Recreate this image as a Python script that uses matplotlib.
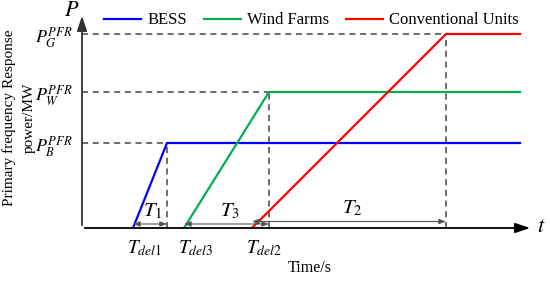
import matplotlib
matplotlib.use("Agg")
import matplotlib.pyplot as plt

plt.rcParams["font.family"] = "Liberation Serif"
plt.rcParams["mathtext.fontset"] = "stix"

# schematic time points (arbitrary units)
series = ["BESS", "Wind Farms", "Conventional Units"]
colors = ["#0000FF", "#00B050", "#FF0000"]
t_start = [5.1, 10.2, 17.0]       # T_del1, T_del3, T_del2
t_reach = [8.5, 18.7, 36.4]       # time at full PFR power
p_level = [0.85, 1.36, 1.94]      # P_B, P_W, P_G
t_end = 43.8
ylabels_p = [r"$P_B^{PFR}$", r"$P_W^{PFR}$", r"$P_G^{PFR}$"]
xlabels_t = [r"$T_{del\mathrm{1}}$", r"$T_{del\mathrm{3}}$", r"$T_{del\mathrm{2}}$"]
span_labels = [r"$T_{\mathrm{1}}$", r"$T_{\mathrm{3}}$", r"$T_{\mathrm{2}}$"]

xmax, ymax = 45.1, 2.15

fig = plt.figure(figsize=(5.5, 2.81), dpi=100)
ax = fig.add_axes([82 / 550, 53 / 281, 451 / 550, 215 / 281])
ax.set_xlim(0, xmax)
ax.set_ylim(0, ymax)
for s in ax.spines.values():
    s.set_visible(False)

# axes with arrows
ax.annotate("", xy=(xmax, 0), xytext=(0, 0),
            arrowprops=dict(arrowstyle="-|>,head_length=0.9,head_width=0.3", color="black", lw=1.3),
            annotation_clip=False)
ax.annotate("", xy=(0, ymax), xytext=(0, 0),
            arrowprops=dict(arrowstyle="-|>,head_length=0.9,head_width=0.3", color="#333333", lw=1.3),
            annotation_clip=False)

# guide lines
for ts, tr, p in zip(t_start, t_reach, p_level):
    ax.plot([0, tr], [p, p], ls=(0, (4, 3)), color="#444444", lw=1.1)
    ax.plot([tr, tr], [0, p], ls=(0, (4, 3)), color="#444444", lw=1.1)

# response curves
for name, c, ts, tr, p in zip(series, colors, t_start, t_reach, p_level):
    ax.plot([ts, tr, t_end], [0, p, p], color=c, lw=1.6, label=name)

# time span arrows
span_y = [0.04, 0.04, 0.065]
for i, (ts, tr) in enumerate(zip(t_start, t_reach)):
    ax.annotate("", xy=(tr, span_y[i]), xytext=(ts, span_y[i]),
                arrowprops=dict(arrowstyle="<|-|>,head_length=0.4,head_width=0.15",
                                color="#555555", lw=0.8, shrinkA=0, shrinkB=0))
    ax.text((ts + tr) / 2 + 0.3, span_y[i] + 0.03, span_labels[i], ha="center", va="bottom", fontsize=15)

ax.set_yticks(p_level)
ax.set_yticklabels(ylabels_p, fontsize=13)
ax.set_xticks([])
ax.tick_params(length=0, pad=7)
for ts, lab in zip(t_start, xlabels_t):
    ax.text(ts - 0.6, -0.1, lab, ha="left", va="top", fontsize=14)

ax.text(-0.3, ymax + 0.02, r"$P$", ha="right", va="center", fontsize=16)
ax.text(xmax + 0.4, 0, r"$t$", ha="left", va="center", fontsize=16)

fig.text(310 / 550, 1 - 268 / 281, "Time/s", ha="center", va="center", fontsize=11.5)
fig.text(19 / 550, 1 - 118 / 281, "Primary frequency Response\npower/MW", rotation=90,
         ha="center", va="center", multialignment="center", fontsize=11, linespacing=1.6)

ax.legend(loc="upper left", bbox_to_anchor=(96 / 550, 1 - 4 / 281), bbox_transform=fig.transFigure,
          ncol=3, frameon=False, fontsize=12, handlelength=2.2, columnspacing=1.0,
          handletextpad=0.4, borderaxespad=0.1)

fig.savefig("out.png", dpi=100)
